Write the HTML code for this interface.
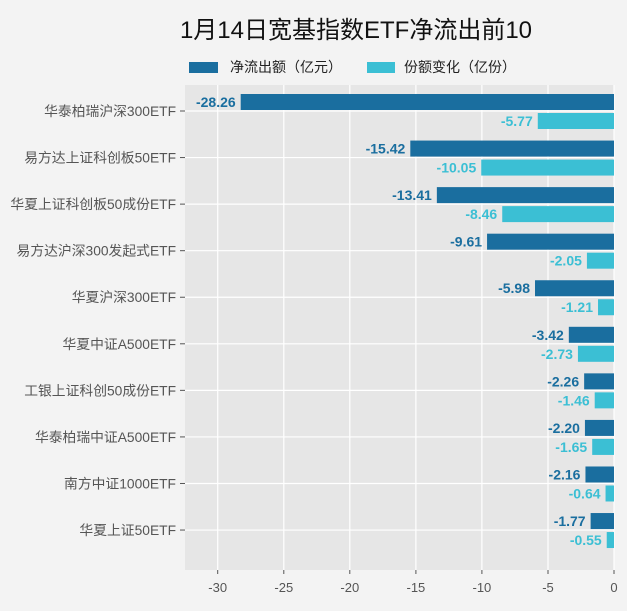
<!DOCTYPE html>
<html><head><meta charset="utf-8"><style>
body{margin:0;width:627px;height:606px;background:#f3f3f3;overflow:hidden;font-family:"Liberation Sans","Noto Sans CJK SC",sans-serif}
</style></head><body>
<svg width="627" height="606" xmlns="http://www.w3.org/2000/svg" font-family="Liberation Sans, Noto Sans CJK SC, sans-serif">
<rect width="627" height="606" fill="#f3f3f3"/>
<text x="356" y="38" text-anchor="middle" font-size="24" fill="#111">1月14日宽基指数ETF净流出前10</text>
<rect x="189" y="62" width="29" height="11" fill="#1a6e9f"/>
<text x="230" y="72" font-size="14" fill="#222">净流出额（亿元）</text>
<rect x="367" y="62" width="28" height="11" fill="#3bbfd4"/>
<text x="404" y="72" font-size="14" fill="#222">份额变化（亿份）</text>
<rect x="185" y="85" width="429" height="485" fill="#e6e6e6"/>
<g stroke="#fff" stroke-width="1.2">
<line x1="217.7" y1="85" x2="217.7" y2="570"/><line x1="283.8" y1="85" x2="283.8" y2="570"/><line x1="349.8" y1="85" x2="349.8" y2="570"/><line x1="415.9" y1="85" x2="415.9" y2="570"/><line x1="481.9" y1="85" x2="481.9" y2="570"/><line x1="548" y1="85" x2="548" y2="570"/><line x1="614" y1="85" x2="614" y2="570"/>
</g>
<g id="rows"></g>
<g font-size="13" fill="#555" text-anchor="middle">
<text x="217.7" y="592">-30</text><text x="283.8" y="592">-25</text><text x="349.8" y="592">-20</text><text x="415.9" y="592">-15</text><text x="481.9" y="592">-10</text><text x="548" y="592">-5</text><text x="614" y="592">0</text>
</g>
<g stroke="#555"><line x1="217.7" y1="570" x2="217.7" y2="574"/><line x1="283.8" y1="570" x2="283.8" y2="574"/><line x1="349.8" y1="570" x2="349.8" y2="574"/><line x1="415.9" y1="570" x2="415.9" y2="574"/><line x1="481.9" y1="570" x2="481.9" y2="574"/><line x1="548" y1="570" x2="548" y2="574"/><line x1="614" y1="570" x2="614" y2="574"/></g>
</svg>
<script>
const names=["华泰柏瑞沪深300ETF","易方达上证科创板50ETF","华夏上证科创板50成份ETF","易方达沪深300发起式ETF","华夏沪深300ETF","华夏中证A500ETF","工银上证科创50成份ETF","华泰柏瑞中证A500ETF","南方中证1000ETF","华夏上证50ETF"];
const a=[-28.26,-15.42,-13.41,-9.61,-5.98,-3.42,-2.26,-2.20,-2.16,-1.77];
const b=[-5.77,-10.05,-8.46,-2.05,-1.21,-2.73,-1.46,-1.65,-0.64,-0.55];
const s=13.21,z=614;let h="";
for(let i=0;i<10;i++){const c=111+46.56*i;
h+=`<line x1="185" y1="${c}" x2="614" y2="${c}" stroke="#fff" stroke-width="1.2"/>`;
const xa=z+a[i]*s,xb=z+b[i]*s;
h+=`<rect x="${xa}" y="${c-17}" width="${z-xa}" height="16" fill="#1a6e9f"/>`;
h+=`<rect x="${xb}" y="${c+2}" width="${z-xb}" height="16" fill="#3bbfd4"/>`;
h+=`<text x="${xa-5}" y="${c-4}" text-anchor="end" font-size="14" font-weight="bold" fill="#1a6e9f">${a[i].toFixed(2)}</text>`;
h+=`<text x="${xb-5}" y="${c+15}" text-anchor="end" font-size="14" font-weight="bold" fill="#3bbfd4">${b[i].toFixed(2)}</text>`;
h+=`<text x="176" y="${c+5}" text-anchor="end" font-size="13.8" fill="#555">${names[i]}</text>`;
h+=`<line x1="180" y1="${c}" x2="185" y2="${c}" stroke="#555"/>`;}
document.getElementById("rows").innerHTML=h;
</script>
</body></html>
